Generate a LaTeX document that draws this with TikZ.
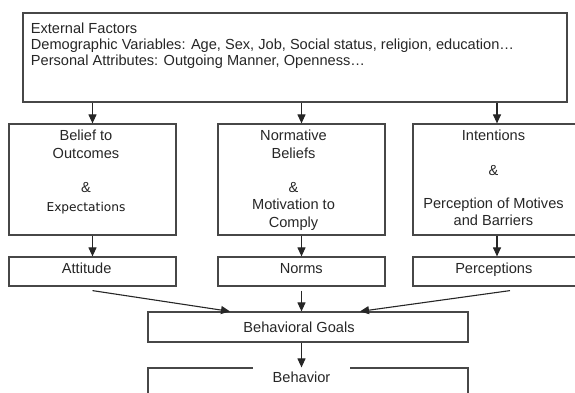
\documentclass[tikz,border=0pt]{standalone}
\usepackage{fontspec}
\setmainfont{Liberation Sans}
\newfontfamily\altfont{DejaVu Sans}
\usetikzlibrary{arrows.meta}
\begin{document}
\begin{tikzpicture}[x=1pt,y=-1pt,
  box/.style={draw=black!72, line width=1.2pt, rectangle, inner sep=0pt},
  boxtext/.style={font=\fontsize{14.6}{17.3}\selectfont, text=black!85, align=center, inner sep=0pt, anchor=north},
  label/.style={font=\fontsize{14.6}{17.3}\selectfont, text=black!85, inner sep=0pt, anchor=base},
  arr/.style={draw=black!85, line width=1.1pt, -{Triangle[length=9pt,width=8pt]}}]
\useasboundingbox (0,0) rectangle (575,392);
\clip (0,0) rectangle (575,392);

% external factors
\node[box, minimum width=544pt, minimum height=89pt] (ext) at (295,57.5) {};
\node[boxtext, anchor=north west, align=left, font=\fontsize{14.6}{16.2}\selectfont] (extt) at (30.7,22.5)
  {External Factors\\Demographic Variables: Age, Sex, Job, Social status, religion, education…\\Personal Attributes: Outgoing Manner, Openness…};

% belief boxes
\node[box, minimum width=167pt, minimum height=111pt] (b1) at (92.5,179.5) {};
\node[box, minimum width=167pt, minimum height=111pt] (b2) at (301.5,179.5) {};
\node[box, minimum width=168pt, minimum height=111pt] (b3) at (497,179.5) {};
\node[boxtext] (t1) at (86,130) {Belief to\\Outcomes\\[17.3pt]\&\\[2pt]{\altfont\fontsize{12.2}{17.3}\selectfont\color{black!90}Expectations}};
\node[boxtext] (t2) at (293.5,130) {Normative\\Beliefs\\[17.3pt]\&\\Motivation to\\Comply};
\node[boxtext] (t3) at (493.5,130) {Intentions\\[17.3pt]\&\\[16pt]Perception of Motives\\and Barriers};

% result boxes
\node[box, minimum width=167pt, minimum height=29pt] (s1) at (92.5,271.5) {};
\node[box, minimum width=167pt, minimum height=29pt] (s2) at (301.5,271.5) {};
\node[box, minimum width=168pt, minimum height=29pt] (s3) at (497,271.5) {};
\node[label] (l1) at (86.7,273.5) {Attitude};
\node[label] (l2) at (301.3,273.5) {Norms};
\node[label] (l3) at (493.8,273.5) {Perceptions};

% goals and behaviour
\node[box, minimum width=320pt, minimum height=30pt] (bg) at (308,327) {};
\node[label] (bgt) at (299,332) {Behavioral Goals};
\node[box, minimum width=320pt, minimum height=30pt] (beh) at (308,383) {};
\node[label, fill=white, inner xsep=20pt, inner ysep=4.5pt] (beht) at (301.5,382) {Behavior};

% connectors
\draw[arr] (ext.south -| b1.north) -- (b1.north);
\draw[arr] (ext.south -| b2.north) -- (b2.north);
\draw[arr] (ext.south -| b3.north) -- (b3.north);
\draw[arr] (b1.south) -- (s1.north);
\draw[arr] (b2.south) -- (s2.north);
\draw[arr] (b3.south) -- (s3.north);
\draw[arr] ([yshift=-4pt]s1.south) -- ([xshift=-78pt]bg.north);
\draw[arr] ([yshift=-4pt]s2.south) -- (s2.south |- bg.north);
\draw[arr] ([shift={(13pt,-4pt)}]s3.south) -- ([xshift=52pt]bg.north);
\draw[arr] (bg.south -| s2.south) -- (beh.north -| s2.south);
\end{tikzpicture}
\end{document}
